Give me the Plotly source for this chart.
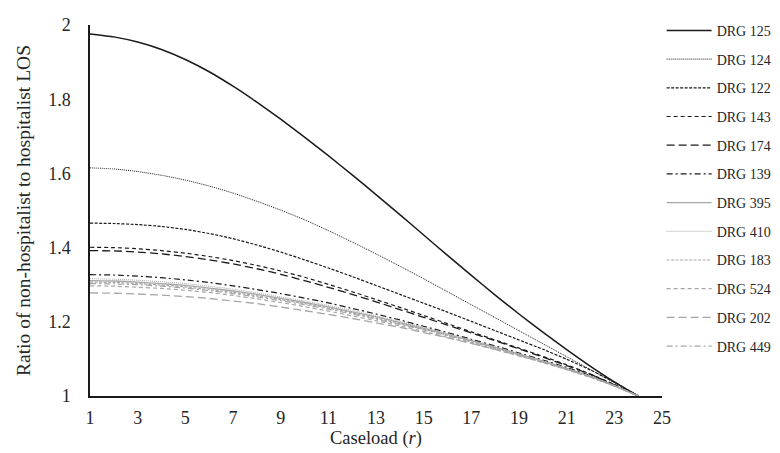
import plotly.graph_objects as go

caseload = list(range(1, 25))
x_ticks = [1, 3, 5, 7, 9, 11, 13, 15, 17, 19, 21, 23, 25]

drg125 = [1.976, 1.968, 1.954, 1.934, 1.907, 1.874, 1.835, 1.792, 1.746, 1.698, 1.648, 1.596,
          1.543, 1.489, 1.434, 1.379, 1.325, 1.272, 1.221, 1.172, 1.125, 1.080, 1.038, 1.000]
drg124 = [1.615, 1.612, 1.605, 1.595, 1.582, 1.566, 1.547, 1.525, 1.501, 1.475, 1.446, 1.415,
          1.383, 1.350, 1.316, 1.281, 1.246, 1.211, 1.176, 1.141, 1.106, 1.071, 1.036, 1.000]
drg122 = [1.466, 1.465, 1.462, 1.457, 1.449, 1.438, 1.424, 1.407, 1.388, 1.367, 1.345, 1.322,
          1.298, 1.274, 1.250, 1.226, 1.201, 1.176, 1.151, 1.126, 1.099, 1.070, 1.037, 1.000]
drg143 = [1.401, 1.400, 1.397, 1.392, 1.385, 1.376, 1.365, 1.352, 1.337, 1.320, 1.301, 1.281,
          1.260, 1.239, 1.217, 1.195, 1.173, 1.151, 1.129, 1.107, 1.084, 1.059, 1.031, 1.000]
drg174 = [1.392, 1.391, 1.388, 1.383, 1.376, 1.367, 1.356, 1.343, 1.328, 1.311, 1.293, 1.274,
          1.254, 1.233, 1.212, 1.191, 1.170, 1.149, 1.127, 1.105, 1.082, 1.058, 1.030, 1.000]
drg139 = [1.327, 1.326, 1.323, 1.319, 1.313, 1.306, 1.297, 1.287, 1.276, 1.264, 1.251, 1.236,
          1.221, 1.205, 1.188, 1.171, 1.153, 1.135, 1.116, 1.097, 1.077, 1.055, 1.029, 1.000]
drg395 = [1.311, 1.310, 1.307, 1.303, 1.298, 1.291, 1.283, 1.274, 1.263, 1.252, 1.240, 1.227,
          1.213, 1.198, 1.182, 1.166, 1.149, 1.131, 1.113, 1.094, 1.074, 1.053, 1.028, 1.000]
drg410 = [1.316, 1.315, 1.312, 1.308, 1.303, 1.296, 1.288, 1.278, 1.267, 1.256, 1.244, 1.231,
          1.216, 1.201, 1.185, 1.168, 1.151, 1.133, 1.114, 1.095, 1.075, 1.053, 1.028, 1.000]
drg183 = [1.307, 1.306, 1.303, 1.299, 1.294, 1.287, 1.279, 1.270, 1.260, 1.249, 1.237, 1.224,
          1.210, 1.195, 1.180, 1.164, 1.147, 1.129, 1.111, 1.093, 1.073, 1.052, 1.028, 1.000]
drg524 = [1.297, 1.296, 1.293, 1.290, 1.285, 1.279, 1.271, 1.262, 1.252, 1.241, 1.229, 1.216,
          1.203, 1.189, 1.174, 1.158, 1.142, 1.125, 1.108, 1.090, 1.071, 1.050, 1.027, 1.000]
drg202 = [1.278, 1.277, 1.275, 1.272, 1.268, 1.263, 1.256, 1.249, 1.240, 1.230, 1.220, 1.209,
          1.197, 1.185, 1.171, 1.157, 1.142, 1.126, 1.109, 1.091, 1.072, 1.051, 1.027, 1.000]
drg449 = [1.303, 1.302, 1.300, 1.296, 1.291, 1.284, 1.276, 1.267, 1.257, 1.246, 1.234, 1.221,
          1.207, 1.193, 1.178, 1.162, 1.145, 1.128, 1.110, 1.092, 1.072, 1.051, 1.027, 1.000]

BLACK = "#1a1a1a"
GRAY = "#a6a6a6"
series = [
    ("DRG 125", drg125, BLACK, "solid", 1.5),
    ("DRG 124", drg124, BLACK, "1px,1px", 1.0),
    ("DRG 122", drg122, BLACK, "3px,1.5px", 1.2),
    ("DRG 143", drg143, BLACK, "4px,3px", 1.2),
    ("DRG 174", drg174, BLACK, "8px,4px", 1.3),
    ("DRG 139", drg139, BLACK, "6px,3px,2px,3px", 1.2),
    ("DRG 395", drg395, GRAY, "solid", 1.3),
    ("DRG 410", drg410, GRAY, "1px,1px", 1.0),
    ("DRG 183", drg183, GRAY, "3px,1.5px", 1.2),
    ("DRG 524", drg524, GRAY, "4px,3px", 1.2),
    ("DRG 202", drg202, GRAY, "8px,4px", 1.3),
    ("DRG 449", drg449, GRAY, "6px,3px,2px,3px", 1.2),
]

fig = go.Figure()
for i, (name, vals, col, dash, w) in enumerate(series):
    fig.add_trace(go.Scatter(
        x=caseload, y=vals, name=name, mode="lines",
        line=dict(color=col, dash=dash, width=w, shape="spline", smoothing=0.5),
        legendgroup=f"g{i}",
    ))

FONT = "Liberation Serif, Times New Roman, serif"
fig.update_layout(
    width=780, height=453,
    margin=dict(l=82, r=126, t=17, b=65, autoexpand=False),
    paper_bgcolor="white", plot_bgcolor="white",
    font=dict(family=FONT, size=18, color="#262626"),
    showlegend=True,
    legend=dict(
        xref="container", yref="container",
        x=0.838, y=0.985, xanchor="left", yanchor="top",
        font=dict(family=FONT, size=14, color="#262626"),
        tracegroupgap=7.5, itemwidth=45, maxheight=445,
        bgcolor="rgba(0,0,0,0)",
    ),
    xaxis=dict(
        range=[1, 25], tickmode="array", tickvals=x_ticks,
        showgrid=False, zeroline=False, showline=True,
        linecolor=BLACK, linewidth=1.5, ticks="",
        ticklabelstandoff=5,
        title=dict(text="Caseload (<i>r</i>)", standoff=3, font=dict(size=18.5)),
    ),
    yaxis=dict(
        range=[1, 2], tickmode="array", tickvals=[1, 1.2, 1.4, 1.6, 1.8, 2],
        ticktext=["1", "1.2", "1.4", "1.6", "1.8", "2"],
        showgrid=False, zeroline=False, showline=True,
        linecolor=BLACK, linewidth=1.5, ticks="",
        ticklabelstandoff=14,
        title=dict(text="Ratio of non-hospitalist to hospitalist LOS", standoff=12, font=dict(size=19.5)),
    ),
)

fig.write_html("out.html")
